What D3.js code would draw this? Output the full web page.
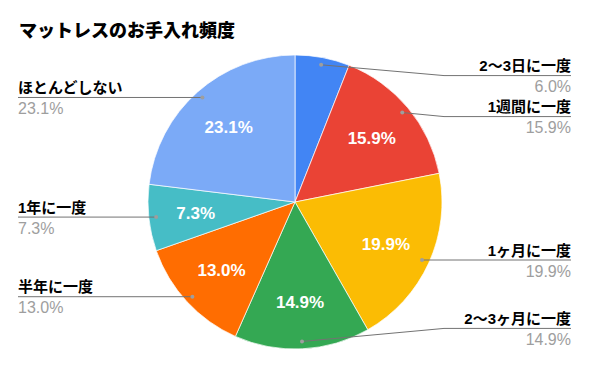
<!DOCTYPE html>
<html>
<head>
<meta charset="utf-8">
<script src="https://cdn.jsdelivr.net/npm/d3@7"></script>
<style>
  html, body { margin: 0; padding: 0; background: #fff; }
  svg { display: block; }
</style>
</head>
<body>
<svg id="chart"></svg>
<script>
// Chart data
const title = "マットレスのお手入れ頻度";
const categories = ["2〜3日に一度", "1週間に一度", "1ヶ月に一度", "2〜3ヶ月に一度", "半年に一度", "1年に一度", "ほとんどしない"];
const values = [6.0, 15.9, 19.9, 14.9, 13.0, 7.3, 23.1];
const palette = ["#4285F4", "#EA4335", "#FBBC04", "#34A853", "#FF6D01", "#46BDC6", "#7BAAF7"];

// SVG configurations
const width = 589;
const height = 368;
const cx = 295;
const cy = 202;
const radius = 147;
const labelFont = "'Liberation Sans', 'Noto Sans CJK JP', sans-serif";

const svg = d3.select("#chart")
  .attr("width", width)
  .attr("height", height);

// Title
svg.append("text")
  .attr("x", 19)
  .attr("y", 37)
  .style("font-family", "'Noto Sans CJK JP', sans-serif")
  .style("font-weight", "900")
  .style("font-size", "18px")
  .attr("fill", "#000")
  .text(title);

const data = categories.map(function(c, i) {
  return { name: c, value: values[i] };
});

const colorScale = d3.scaleOrdinal()
  .domain(categories)
  .range(palette);

const pie = d3.pie()
  .sort(null)
  .value(function(d) { return d.value; });

const arcs = pie(data);

const arc = d3.arc()
  .innerRadius(0)
  .outerRadius(radius);

const g = svg.append("g")
  .attr("transform", `translate(${cx},${cy})`);

// Slices
g.selectAll(".slice")
  .data(arcs)
  .join("path")
    .attr("class", "slice")
    .attr("d", arc)
    .attr("fill", function(d) { return colorScale(d.data.name); })
    .attr("stroke", "#fff")
    .attr("stroke-width", 0.7);

// Inside labels
const innerArc = d3.arc().innerRadius(radius * 0.68).outerRadius(radius * 0.68);
g.selectAll(".inner-label")
  .data(arcs.filter(function(d) { return d.data.value >= 7; }))
  .join("text")
    .attr("class", "inner-label")
    .attr("transform", function(d) { return `translate(${innerArc.centroid(d)})`; })
    .attr("text-anchor", "middle")
    .attr("dy", "0.36em")
    .style("font-family", labelFont)
    .style("font-weight", "bold")
    .style("font-size", "17px")
    .attr("fill", "#fff")
    .text(function(d) { return d.data.value.toFixed(1) + "%"; });

// Outside labels: layout
const dotR = radius * 0.95;
const minY = cy - radius * 0.86;
const maxY = cy + radius * 0.86;
const gap = 41;

const labels = arcs.map(function(d) {
  const mid = (d.startAngle + d.endAngle) / 2;
  return {
    d: d,
    right: mid < Math.PI,
    dotX: cx + dotR * Math.sin(mid),
    dotY: cy - dotR * Math.cos(mid)
  };
});

function layoutSide(list) {
  list.sort(function(a, b) { return a.dotY - b.dotY; });
  list.forEach(function(l, i) {
    l.y = Math.max(minY, Math.min(maxY, l.dotY));
    if (i > 0 && l.y < list[i - 1].y + gap) l.y = list[i - 1].y + gap;
  });
  for (let i = list.length - 2; i >= 0; i--) {
    if (list[i].y > list[i + 1].y - gap) list[i].y = list[i + 1].y - gap;
  }
}
layoutSide(labels.filter(function(l) { return l.right; }));
layoutSide(labels.filter(function(l) { return !l.right; }));

const rightEnd = 571;
const leftEnd = 18;

const outer = svg.append("g");

outer.selectAll(".leader")
  .data(labels)
  .join("polyline")
    .attr("class", "leader")
    .attr("points", function(l) {
      const elbowX = l.right ? cx + radius + 2 : cx - radius - 2;
      const endX = l.right ? rightEnd : leftEnd;
      return [[l.dotX, l.dotY], [elbowX, l.y], [endX, l.y]].join(" ");
    })
    .attr("fill", "none")
    .attr("stroke", "#737373")
    .attr("stroke-width", 1);

outer.selectAll(".dot")
  .data(labels)
  .join("circle")
    .attr("class", "dot")
    .attr("cx", function(l) { return l.dotX; })
    .attr("cy", function(l) { return l.dotY; })
    .attr("r", 2)
    .attr("fill", "#9e9e9e");

outer.selectAll(".name")
  .data(labels)
  .join("text")
    .attr("class", "name")
    .attr("x", function(l) { return l.right ? rightEnd : leftEnd; })
    .attr("y", function(l) { return l.y - 4.5; })
    .attr("text-anchor", function(l) { return l.right ? "end" : "start"; })
    .style("font-family", labelFont)
    .style("font-weight", "bold")
    .style("font-size", "15px")
    .attr("fill", "#000")
    .text(function(l) { return l.d.data.name; });

outer.selectAll(".pct")
  .data(labels)
  .join("text")
    .attr("class", "pct")
    .attr("x", function(l) { return l.right ? rightEnd : leftEnd; })
    .attr("y", function(l) { return l.y + 16.5; })
    .attr("text-anchor", function(l) { return l.right ? "end" : "start"; })
    .style("font-family", labelFont)
    .style("font-size", "16px")
    .attr("fill", "#9e9e9e")
    .text(function(l) { return l.d.data.value.toFixed(1) + "%"; });
</script>
</body>
</html>
